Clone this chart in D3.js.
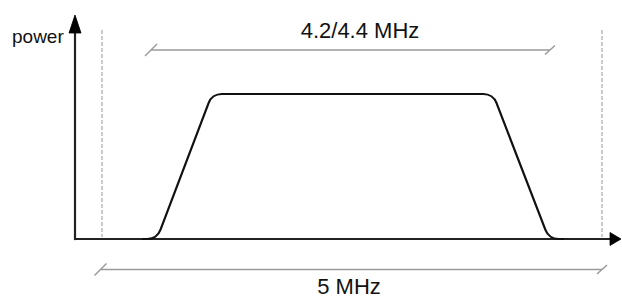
<!DOCTYPE html>
<html>
<head>
<meta charset="utf-8">
<script src="https://cdn.jsdelivr.net/npm/d3@7"></script>
<style>
  body{margin:0;background:#fff;}
  svg{display:block;font-family:"Liberation Sans", Arial, sans-serif;}
</style>
</head>
<body>
<svg></svg>
<script>
//Spectrum shape: frequency (MHz, centre = 0) and relative power
const spectrumFreq = [-2.10, -1.95, -1.40, 1.41, 1.97, 2.12];
const spectrumPower = [0, 0, 1, 1, 0, 0];

//Channel edges drawn as dashed lines
const channelEdges = [-2.5, 2.5];

//Dimension marks: label, start and end frequency
const dimLabels = ["4.2/4.4 MHz", "5 MHz"];
const dimStart = [-2.01, -2.515];
const dimEnd = [1.98, 2.50];

const axisLabel = "power";

//Define the width height of the svg canvas
const [w, h] = [622, 298];
const svg = d3.select("svg").attr("width", w).attr("height", h);

//Scales
const xScale = d3.scaleLinear().domain([-2.5, 2.5]).range([102, 602]);
const yScale = d3.scaleLinear().domain([0, 1]).range([239, 94]);

const x0 = xScale(-2.77), xTip = 621;
const y0 = yScale(0), yTip = 15;

//Dashed channel edges
svg.selectAll(".edge").data(channelEdges).enter().append("line")
	.attr("class", "edge")
	.attr("x1", d => xScale(d)).attr("x2", d => xScale(d))
	.attr("y1", 30).attr("y2", y0 - 2)
	.attr("stroke", "#a8a8a8").attr("stroke-width", 1.2)
	.attr("stroke-dasharray", "4,2");

//Axes with arrow heads
svg.append("line").attr("x1", x0).attr("x2", xTip - 8).attr("y1", y0).attr("y2", y0)
	.attr("stroke", "#222").attr("stroke-width", 2.2);
svg.append("line").attr("x1", x0).attr("x2", x0).attr("y1", y0 + 1.1).attr("y2", yTip + 8)
	.attr("stroke", "#222").attr("stroke-width", 2.2);
svg.append("path")
	.attr("d", `M${xTip},${y0} L${xTip - 11},${y0 - 6.5} L${xTip - 11},${y0 + 6.5} Z`)
	.attr("fill", "#000").attr("stroke", "#000").attr("stroke-width", 0.8)
	.attr("stroke-linejoin", "round");
svg.append("path")
	.attr("d", `M${x0},${yTip} L${x0 - 6},${yTip + 18} L${x0 + 6},${yTip + 18} Z`)
	.attr("fill", "#000").attr("stroke", "#000").attr("stroke-width", 0.8)
	.attr("stroke-linejoin", "round");

svg.append("text").attr("x", 12).attr("y", 43)
	.attr("font-size", 19).attr("fill", "#111")
	.text(axisLabel);

//Spectrum curve with rounded corners
const pts = spectrumFreq.map((f, i) => [xScale(f), yScale(spectrumPower[i])]);
const cornerRadius = 14;
const p = d3.path();
p.moveTo(pts[0][0], pts[0][1]);
for (let i = 1; i < pts.length - 1; i++) {
	p.arcTo(pts[i][0], pts[i][1], pts[i + 1][0], pts[i + 1][1], cornerRadius);
}
p.lineTo(pts[pts.length - 1][0], pts[pts.length - 1][1]);
svg.append("path").attr("d", p.toString())
	.attr("fill", "none").attr("stroke", "#111").attr("stroke-width", 2.2);

//Dimension lines
const dimY = [50, 269.5];
const dimTextX = [360, 349];
const dimTextY = [38, 294];
dimLabels.forEach((label, i) => {
	const g = svg.append("g").attr("stroke", "#9a9a9a").attr("stroke-width", 1.5);
	const xa = xScale(dimStart[i]), xb = xScale(dimEnd[i]), y = dimY[i];
	g.append("line").attr("x1", xa).attr("x2", xb).attr("y1", y).attr("y2", y);
	g.append("line").attr("x1", xa - 6).attr("x2", xa + 6).attr("y1", y + 6).attr("y2", y - 6);
	g.append("line").attr("x1", xb - 5).attr("x2", xb + 5).attr("y1", y + 4.5).attr("y2", y - 4.5);
	svg.append("text").attr("x", dimTextX[i]).attr("y", dimTextY[i])
		.attr("text-anchor", "middle").attr("font-size", 22).attr("fill", "#111")
		.text(label);
});
</script>
</body>
</html>
